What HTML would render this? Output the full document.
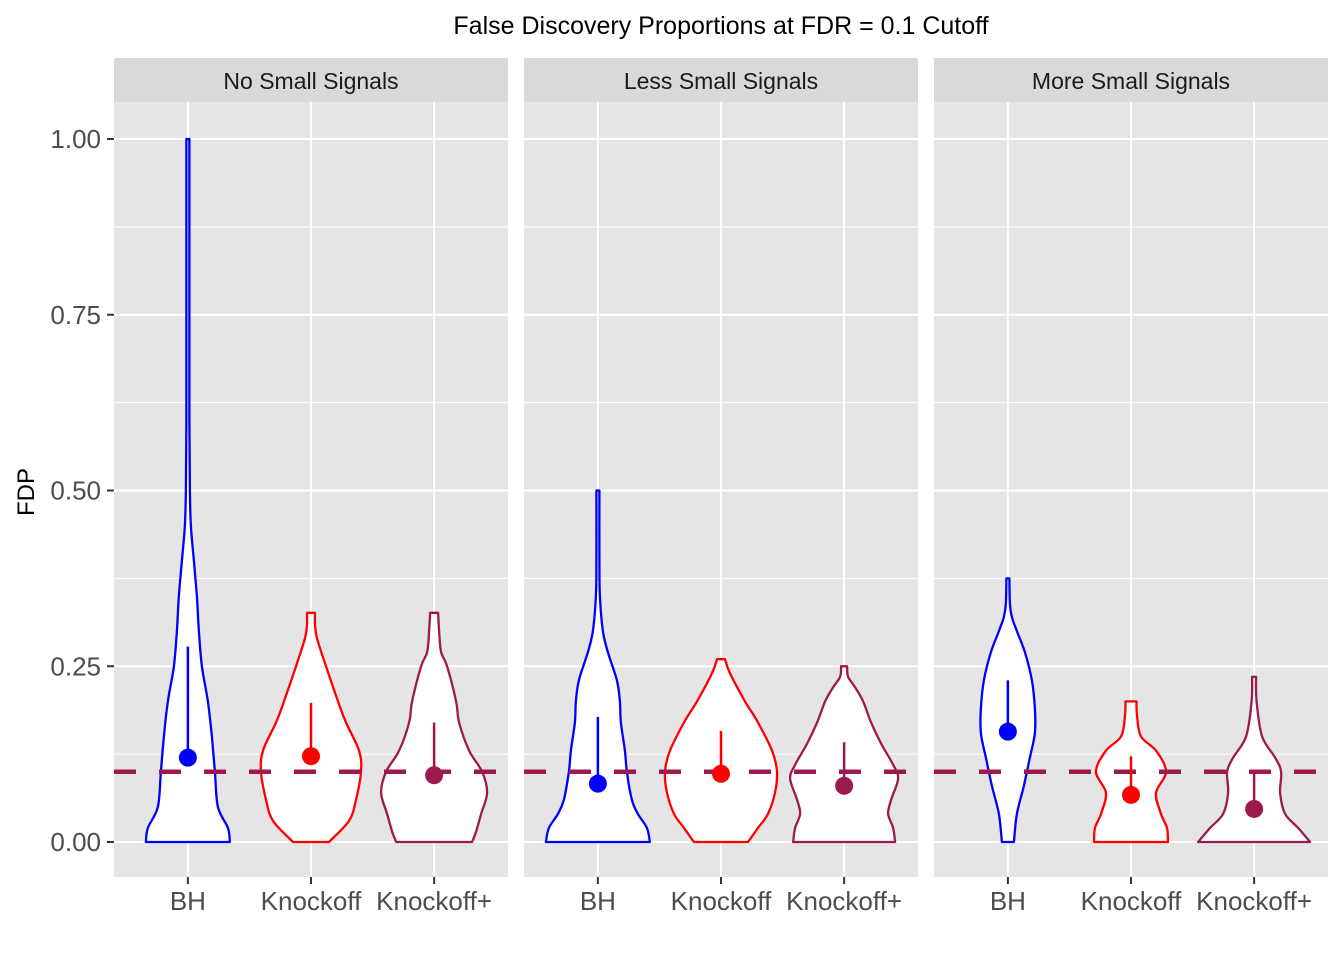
<!DOCTYPE html>
<html><head><meta charset="utf-8"><style>
body{margin:0;background:#fff;}
svg{display:block;font-family:"Liberation Sans",Arial,sans-serif;}
</style></head><body>
<svg id="c" width="1344" height="960" xmlns="http://www.w3.org/2000/svg"></svg>
<script>
const panels = ["No Small Signals","Less Small Signals","More Small Signals"];
const categories = ["BH","Knockoff","Knockoff+"];
const colors = ["#0000FF","#FF0000","#9E1A4E"];
const yTicks = [0,0.25,0.5,0.75,1.0];
const yTickLabels = ["0.00","0.25","0.50","0.75","1.00"];
const cutoff = 0.1;
// violin profiles: [fdp, half-density] per panel/category
const profiles = [
 [
  [[0,42],[0.02,40],[0.05,30],[0.1,27],[0.15,24],[0.2,20],[0.25,14],[0.3,11],[0.35,9],[0.4,6],[0.45,3],[0.5,2],[0.6,1.5],[0.75,1.5],[1.0,1.5]],
  [[0,18],[0.03,38],[0.06,45],[0.1,50],[0.13,48],[0.17,35],[0.2,27],[0.25,15],[0.29,6],[0.31,4],[0.326,4]],
  [[0,38],[0.015,42],[0.04,47],[0.07,53],[0.1,48],[0.13,35],[0.17,25],[0.2,22],[0.25,13],[0.27,7],[0.3,5],[0.326,4]]
 ],
 [
  [[0,52],[0.02,49],[0.04,40],[0.06,34],[0.1,29],[0.13,27],[0.17,23],[0.2,22],[0.23,19],[0.27,10],[0.3,5],[0.35,2],[0.4,1.5],[0.5,1.5]],
  [[0,27],[0.02,37],[0.04,47],[0.07,54],[0.1,56],[0.13,51],[0.17,37],[0.2,24],[0.24,9],[0.26,4]],
  [[0,51],[0.02,49],[0.04,44],[0.06,47],[0.09,54],[0.11,49],[0.14,37],[0.17,27],[0.2,19],[0.22,11],[0.235,4],[0.25,3]]
 ],
 [
  [[0,6],[0.04,9],[0.08,16],[0.12,22],[0.155,27],[0.19,27],[0.23,24],[0.27,17],[0.3,9],[0.32,4],[0.34,2],[0.375,1.5]],
  [[0,37],[0.02,36],[0.04,30],[0.07,25],[0.1,35],[0.13,25],[0.15,10],[0.18,6],[0.2,5.5]],
  [[0,56],[0.02,44],[0.04,31],[0.07,26],[0.1,27],[0.12,21],[0.15,8],[0.2,2.5],[0.235,2]]
 ]
];
const means = [[0.12,0.122,0.095],[0.083,0.097,0.08],[0.157,0.067,0.047]];
const upper = [[0.278,0.198,0.17],[0.178,0.158,0.142],[0.23,0.122,0.097]];

const svg = document.getElementById('c');
const NS = "http://www.w3.org/2000/svg";
function mk(tag, attrs, parent){const e=document.createElementNS(NS,tag);for(const k in attrs)e.setAttribute(k,attrs[k]);(parent||svg).appendChild(e);return e;}
const panelX=[114,524,934], panelW=394, plotTop=102, plotBottom=877;
const y = v => 842 - v*703;
const xCat = (p,i) => panelX[p] + (0.6 + i)*panelW/3.2;

function smooth(pts){
  let d='';
  for(let i=0;i<pts.length-1;i++){
    const p0=pts[Math.max(0,i-1)],p1=pts[i],p2=pts[i+1],p3=pts[Math.min(pts.length-1,i+2)];
    const c1=[p1[0]+(p2[0]-p0[0])/6,p1[1]+(p2[1]-p0[1])/6];
    const c2=[p2[0]-(p3[0]-p1[0])/6,p2[1]-(p3[1]-p1[1])/6];
    d+=' C'+c1[0].toFixed(1)+','+c1[1].toFixed(1)+' '+c2[0].toFixed(1)+','+c2[1].toFixed(1)+' '+p2[0].toFixed(1)+','+p2[1].toFixed(1);
  }
  return d;
}

const title = mk('text',{x:721,y:34,'text-anchor':'middle','font-size':25,fill:'#000'});
title.textContent="False Discovery Proportions at FDR = 0.1 Cutoff";



const ylab = mk('text',{x:0,y:0,transform:'translate(34,492) rotate(-90)','text-anchor':'middle','font-size':24,fill:'#000'});
ylab.textContent="FDP";



yTicks.forEach((t,i)=>{
  const tl = mk('text',{x:101,y:y(t)+9,'text-anchor':'end','font-size':26,fill:'#4d4d4d'});
  tl.textContent=yTickLabels[i];
  
  
  const tk = mk('line',{x1:107,x2:114,y1:y(t),y2:y(t),stroke:'#333','stroke-width':2});
  
  
});

panels.forEach((pn,p)=>{
  const g = mk('g',{});
  
  
  const bg = mk('rect',{x:panelX[p],y:plotTop,width:panelW,height:plotBottom-plotTop,fill:'#e5e5e5'},g);
  
  
  for(let k=0;k<yTicks.length-1;k++){
    const mv=(yTicks[k]+yTicks[k+1])/2;
    const ml = mk('line',{x1:panelX[p],x2:panelX[p]+panelW,y1:y(mv),y2:y(mv),stroke:'#fff','stroke-width':1},g);
    
    
  }
  yTicks.forEach(t=>{
    const gl = mk('line',{x1:panelX[p],x2:panelX[p]+panelW,y1:y(t),y2:y(t),stroke:'#fff','stroke-width':2},g);
    
    
  });
  categories.forEach((c,i)=>{
    const vl = mk('line',{x1:xCat(p,i),x2:xCat(p,i),y1:plotTop,y2:plotBottom,stroke:'#fff','stroke-width':2},g);
    
    
  });
  const st = mk('rect',{x:panelX[p],y:58,width:panelW,height:44,fill:'#d9d9d9'},g);
  
  
  const stt = mk('text',{x:panelX[p]+panelW/2,y:89,'text-anchor':'middle','font-size':23,fill:'#1a1a1a'},g);
  stt.textContent=pn;
  
  

  categories.forEach((c,i)=>{
    const cx=xCat(p,i), prof=profiles[p][i];
    const right=prof.map(d=>[cx+d[1],y(d[0])]);
    const left=prof.slice().reverse().map(d=>[cx-d[1],y(d[0])]);
    let d='M'+right[0][0].toFixed(1)+','+right[0][1].toFixed(1)+smooth(right)+' L'+left[0][0].toFixed(1)+','+left[0][1].toFixed(1)+smooth(left)+' Z';
    const vi = mk('path',{d:d,fill:'#fff',stroke:colors[i],'stroke-width':2.3,'stroke-linejoin':'round'},g);
    
    
    const xl = mk('text',{x:cx,y:910,'text-anchor':'middle','font-size':26,fill:'#4d4d4d'});
    xl.textContent=c;
    
    
    const xt = mk('line',{x1:cx,x2:cx,y1:877,y2:884,stroke:'#333','stroke-width':2});
    
    
  });
});

panels.forEach((pn,p)=>{
  const dash = mk('line',{x1:panelX[p],x2:panelX[p]+panelW,y1:y(cutoff),y2:y(cutoff),stroke:'#9E1A4E','stroke-width':4.5,'stroke-dasharray':'22 23'});
  
  
});

panels.forEach((pn,p)=>{
  categories.forEach((c,i)=>{
    const cx=xCat(p,i);
    const ln = mk('line',{x1:cx,x2:cx,y1:y(means[p][i]),y2:y(upper[p][i]),stroke:colors[i],'stroke-width':2.5});
    
    
    const pt = mk('circle',{cx:cx,cy:y(means[p][i]),r:9,fill:colors[i]});
    
    
  });
});
</script>
</body></html>
